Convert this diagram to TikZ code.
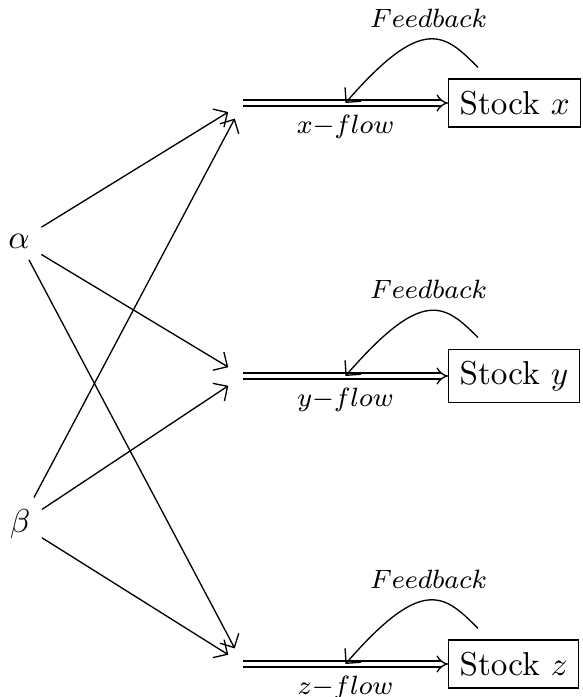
\documentclass[tikz,border=0pt]{standalone}
\usepackage{amsmath, amssymb}
\usepackage{tikz}
\usetikzlibrary{arrows.meta}
\tikzset{
  >={Straight Barb[length=3.2pt, width=6.4pt]},
  stock/.style={draw, rectangle, inner ysep=3.6pt},
  valve/.style={inner sep=0pt, minimum width=8.5pt, minimum height=9pt},
  flow/.style={double, double distance=1.4pt, -{Implies[scale=1.4]}},
  fb/.style={->},
}

\begin{document}
\begin{tikzpicture}[x=0.302pt, y=-0.302pt]
        \useasboundingbox (0,0) rectangle (583,697);
        \node (alpha) at (19,241) {$\alpha$};
        \node (beta) at (20,524) {$\beta$};
        \foreach \s/\y in {x/103, y/376, z/664} {
          \node[valve] (\s in) at (243,\y) {};
          \node[stock, anchor=west] (\s stock) at (448,\y) {Stock $\s$};
          \draw[flow] (\s in.center) -- (\s stock) coordinate[pos=.5] (\s mid)
            node[pos=.5, below, font=\footnotesize] {$\s{-}flow$};
          \draw[fb] ([shift={(30,-11)}]\s stock.north west) .. controls +(-33,-33) and +(78,-90) .. (\s mid)
            node[pos=.5, above, font=\footnotesize] {$Feedback$};
        }
        \foreach \a in {alpha, beta}
          \foreach \s in {x, y, z}
            \draw[->] (\a) -- (\s in);
      \end{tikzpicture}
\end{document}
